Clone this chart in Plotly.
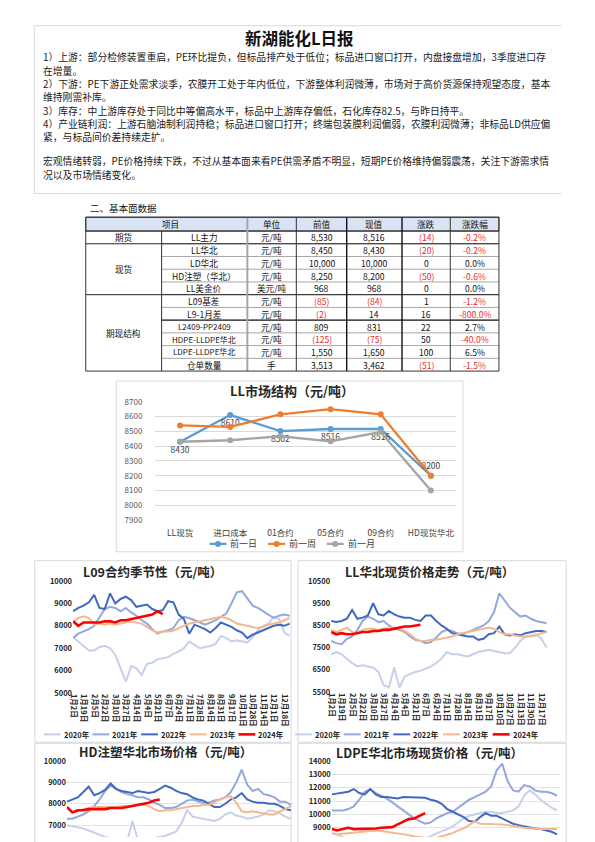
import plotly.graph_objects as go

W, H = 595, 842
FONT = "Noto Sans CJK SC"


def fx(px):
    return px / W


def fy(py):
    return 1 - py / H


# ---------------- report text ----------------
report_title = "新湖能化L日报"
body_lines = [
    "1）上游：部分检修装置重启，PE环比提负，但标品排产处于低位；标品进口窗口打开，内盘接盘增加，3季度进口存",
    "在增量。",
    "2）下游：PE下游正处需求淡季，农膜开工处于年内低位，下游整体利润微薄，市场对于高价货源保持观望态度，基本",
    "维持刚需补库。",
    "3）库存：中上游库存处于同比中等偏高水平，标品中上游库存偏低，石化库存82.5，与昨日持平。",
    "4）产业链利润：上游石脑油制利润持稳；标品进口窗口打开；终端包装膜利润偏弱，农膜利润微薄；非标品LD供应偏",
    "紧，与标品间价差持续走扩。",
    "宏观情绪转弱，PE价格持续下跌，不过从基本面来看PE供需矛盾不明显，短期PE价格维持偏弱震荡，关注下游需求情",
    "况以及市场情绪变化。",
]
section_title = "二、基本面数据"

# ---------------- table data ----------------
table_header = ["项目", "单位", "前值", "现值", "涨跌", "涨跌幅"]
table_groups = ["期货", "现货", "期现结构"]
table_group_sizes = [1, 4, 6]
table_items = ["LL主力", "LL华北", "LD华北", "HD注塑（华北）", "LL美金价", "L09基差", "L9-1月差",
               "L2409-PP2409", "HDPE-LLDPE华北", "LDPE-LLDPE华北", "仓单数量"]
table_units = ["元/吨", "元/吨", "元/吨", "元/吨", "美元/吨", "元/吨", "元/吨", "元/吨", "元/吨", "元/吨", "手"]
table_prev = ["8,530", "8,450", "10,000", "8,250", "968", "(85)", "(2)", "809", "(125)", "1,550", "3,513"]
table_curr = ["8,516", "8,430", "10,000", "8,200", "968", "(84)", "14", "831", "(75)", "1,650", "3,462"]
table_chg = ["(14)", "(20)", "0", "(50)", "0", "1", "16", "22", "50", "100", "(51)"]
table_pct = ["-0.2%", "-0.2%", "0.0%", "-0.6%", "0.0%", "-1.2%", "-800.0%", "2.7%", "-40.0%", "6.5%", "-1.5%"]

# ---------------- LL market structure ----------------
ms_title = "LL市场结构（元/吨）"
ms_categories = ["LL现货", "进口成本", "01合约", "05合约", "09合约", "HD现货华北"]
ms_prev_day = [8430, 8610, 8502, 8516, 8516, 8200]
ms_prev_week = [8540, 8530, 8615, 8650, 8615, 8200]
ms_prev_month = [8430, 8440, 8467, 8433, 8495, 8100]
ms_names = ["前一日", "前一周", "前一月"]

# ---------------- seasonal charts ----------------
season_years = ["2020年", "2021年", "2022年", "2023年", "2024年"]
season_days = list(range(0, 247, 6))  # trading-day index of each sample

ticks_a = ["1月2日", "1月19日", "2月5日", "2月22日", "3月10日", "3月27日", "4月14日", "5月4日", "5月21日",
           "6月7日", "6月24日", "7月11日", "7月28日", "8月14日", "8月31日", "9月17日", "10月11日",
           "10月28日", "11月14日", "12月1日", "12月18日"]
ticks_b = ["1月2日", "1月19日", "2月5日", "2月22日", "3月10日", "3月27日", "4月14日", "5月4日", "5月21日",
           "6月7日", "6月24日", "7月11日", "7月28日", "8月14日", "8月31日", "9月17日", "10月10日",
           "10月27日", "11月13日", "11月30日", "12月17日"]

# L09 contract seasonality
A_2020 = [7500, 7300, 7100, 6900, 6900, 7050, 7100, 7000, 6700, 6100, 5500, 6200, 6100, 5800, 6300, 6350, 6500,
          6550, 6600, 6750, 6850, 7000, 7300, 7150, 7000, 7050, 7100, 7200, 7550, 7450, 7300, 7350, 7300, 7250,
          7500, 7800, 8000, 8100, 8400, 8300, 7700, 7550]
A_2021 = [7450, 7650, 7750, 7850, 8000, 8350, 8750, 8850, 8800, 8650, 8800, 8600, 8450, 8250, 8100, 7850, 7650,
          7750, 7800, 7900, 8250, 8400, 8350, 8250, 8150, 8050, 8150, 8250, 8400, 8550, 9000, 9500, 9550, 9200,
          8900, 8800, 8650, 8500, 8350, 8450, 8500, 8450]
A_2022 = [8650, 8800, 8900, 9050, 9380, 8800, 8750, 9450, 9000, 9200, 9300, 9150, 8850, 8900, 8950, 8750, 8650,
          8700, 9100, 9050, 8500, 8300, 7650, 8050, 7950, 7850, 7700, 7900, 8150, 8050, 7950, 7800, 7700, 7450,
          7600, 7700, 7800, 7900, 8000, 8050, 8000, 8100]
A_2023 = [8150, 8350, 8430, 8350, 8050, 8100, 8050, 8100, 8050, 8100, 8150, 8200, 8150, 8100, 7950, 7800, 7700,
          7750, 7750, 7780, 7900, 8000, 8100, 8150, 8200, 8250, 8300, 8350, 8400, 8350, 8250, 8100, 8050, 8000,
          7950, 7900, 7950, 8050, 8100, 8150, 8250, 8350]
A_2024 = [8200, 8000, 8150, 8150, 8150, 8150, 8200, 8200, 8150, 8250, 8250, 8300, 8350, 8400, 8450, 8500, 8650,
          8520]

# LL North China spot
B_2020 = [7200, 7300, 7200, 7000, 6800, 6650, 6700, 6650, 6600, 6400, 5800, 5700, 6600, 5700, 6200, 6300, 6400,
          6450, 6550, 6650, 6800, 7000, 7300, 7200, 7200, 7150, 7100, 7200, 7300, 7350, 7400, 7350, 7300, 7250,
          7250, 7500, 7800, 8000, 8050, 8100, 7900, 7500]
B_2021 = [7800, 7700, 7650, 7900, 8000, 8300, 8700, 8900, 8800, 8650, 8700, 8500, 8350, 8300, 8200, 8000, 7850,
          7800, 7700, 7750, 7950, 8200, 8300, 8250, 8150, 8100, 8200, 8300, 8400, 8500, 8700, 9100, 9950, 9600,
          9300, 9100, 8900, 8950, 8800, 8700, 8650, 8600]
B_2022 = [8700, 8650, 8700, 8800, 9200, 8800, 8850, 8950, 9500, 9000, 8950, 9150, 9000, 8900, 8850, 8850, 8750,
          8700, 8950, 8950, 8700, 8500, 8350, 8150, 8100, 8050, 8000, 8000, 7850, 7900, 8100, 8150, 8450, 8100,
          8050, 8100, 8050, 8150, 8200, 8250, 8250, 8200]
B_2023 = [8300, 8200, 8300, 8400, 8200, 8150, 8300, 8350, 8350, 8300, 8350, 8400, 8400, 8350, 8250, 8100, 7900,
          7800, 7800, 7850, 7850, 7900, 7950, 8000, 8100, 8150, 8200, 8250, 8300, 8350, 8400, 8350, 8200, 8100,
          8100, 8050, 8000, 8000, 8000, 8050, 8150, 8200]
B_2024 = [8200, 8100, 8150, 8100, 8100, 8150, 8200, 8200, 8250, 8250, 8300, 8300, 8350, 8400, 8450, 8450, 8500,
          8530]

# HD injection North China
C_2020 = [7000, 6950, 6900, 6850, 6750, 6650, 6550, 6450, 6400, 6300, 6250, 6200, 7200, 6300, 6200, 6300, 6400,
          6450, 6500, 6600, 6700, 7100, 7700, 7400, 7350, 7300, 7250, 7200, 7300, 7500, 7600, 7450, 7400, 7300,
          7350, 7400, 7500, 7700, 7650, 7550, 7400, 7300]
C_2021 = [7300, 7300, 7400, 7500, 7650, 7900, 8200, 8600, 8850, 8700, 8550, 8450, 8400, 8300, 8300, 8200, 8050,
          7950, 7800, 7800, 7850, 8000, 8150, 8200, 8100, 8050, 8050, 8150, 8200, 8300, 8550, 9000, 9600, 8900,
          8600, 8700, 8450, 8400, 8300, 8100, 8100, 7950]
C_2022 = [8100, 8200, 8300, 8550, 8800, 8400, 8500, 8650, 8950, 8700, 8600, 8550, 8500, 8600, 8550, 8500, 8550,
          8700, 8850, 8750, 8600, 8500, 8450, 8300, 8200, 8150, 8000, 7850, 7850, 8000, 8200, 8300, 8500, 8200,
          8100, 8050, 8050, 8000, 8000, 7900, 7750, 7700]
C_2023 = [7800, 7600, 7650, 7750, 7800, 7850, 7850, 7850, 7850, 7850, 7900, 7900, 7900, 7950, 7950, 7900, 7750,
          7650, 7700, 7700, 7750, 7800, 7850, 7900, 7900, 7950, 7950, 8050, 8200, 8300, 8350, 8050, 7650, 7600,
          7650, 7600, 7550, 7500, 7500, 7650, 7750, 7900]
C_2024 = [7850, 7600, 7700, 7700, 7750, 7750, 7750, 7750, 7800, 7800, 7800, 7850, 7900, 7950, 8000, 8050, 8150,
          8200]

# LDPE North China spot
D_2020 = [8600, 8500, 8300, 8000, 7700, 7500, 7300, 7100, 7000, 7100, 7200, 7300, 7400, 7500, 7600, 7800, 8000,
          8200, 8400, 8600, 8750, 8900, 9100, 9400, 9700, 9900, 10000, 10100, 10200, 10200, 10100, 10100, 10200,
          10300, 10600, 11400, 11800, 11500, 11100, 10800, 10500, 10300]
D_2021 = [10300, 10300, 10300, 10400, 10600, 11100, 11700, 11900, 11600, 11400, 11200, 10900, 10600, 10300, 10000,
          9700, 9500, 9300, 9400, 9700, 9900, 10100, 10200, 10500, 10800, 11100, 11300, 11500, 11700, 12100, 13300,
          13800, 12500, 11800, 11700, 12200, 12100, 11800, 11700, 11700, 11600, 11400]
D_2022 = [11500, 11550, 11600, 11700, 11900, 11600, 11500, 11900, 11500, 11300, 11300, 11250, 11200, 11300, 11300,
          11250, 11300, 11250, 11100, 11000, 10800, 10400, 10200, 10000, 9800, 9500, 9450, 9800, 10100, 9900, 9900,
          9700, 9500, 9300, 9200, 9100, 9000, 8950, 8900, 8800, 8700, 8500]
D_2023 = [8600, 8500, 8550, 8600, 8650, 8700, 8750, 8800, 8800, 8750, 8700, 8650, 8600, 8500, 8450, 8350, 8300,
          8200, 8200, 8250, 8350, 8450, 8600, 8800, 8950, 9200, 9500, 9300, 9300, 9300, 9300, 9250, 9200, 9100,
          9050, 9000, 8950, 8900, 8900, 8900, 8900, 8900]
D_2024 = [8900, 8800, 8900, 9000, 8900, 8900, 8900, 8950, 8950, 9000, 9000, 9050, 9250, 9450, 9650, 9700, 9900,
          10100]

season_charts = [
    ("L09合约季节性（元/吨）", [A_2020, A_2021, A_2022, A_2023, A_2024]),
    ("LL华北现货价格走势（元/吨）", [B_2020, B_2021, B_2022, B_2023, B_2024]),
    ("HD注塑华北市场价格（元/吨）", [C_2020, C_2021, C_2022, C_2023, C_2024]),
    ("LDPE华北市场现货价格（元/吨）", [D_2020, D_2021, D_2022, D_2023, D_2024]),
]

# ---------------- styles ----------------
season_colors = ["#c6d0ea", "#93a8db", "#4169c1", "#f5b88e", "#ff0000"]
season_widths = [2, 2, 2, 2, 2.6]
ms_colors = ["#5b9bd5", "#ed7d31", "#a5a5a5"]
RED = "#e8302c"

fig = go.Figure()
shapes = []
annotations = []


def line(x0, y0, x1, y1, color="#d9d9d9", width=1):
    shapes.append(dict(type="line", xref="paper", yref="paper", x0=fx(x0), y0=fy(y0), x1=fx(x1), y1=fy(y1),
                       line=dict(color=color, width=width)))


def rect(x0, y0, x1, y1, color="#d9d9d9", width=1, fill=None):
    d = dict(type="rect", xref="paper", yref="paper", x0=fx(x0), y0=fy(y0), x1=fx(x1), y1=fy(y1),
             line=dict(color=color, width=width), layer="below")
    if fill:
        d["fillcolor"] = fill
    shapes.append(d)


def text(x, y, s, size=10, color="#111111", anchor="center", bold=False):
    annotations.append(dict(xref="paper", yref="paper", x=fx(x), y=fy(y), text=s, showarrow=False,
                            xanchor=anchor, yanchor="middle", borderpad=0,
                            font=dict(family=FONT, size=size, color=color, weight="bold" if bold else "normal")))


# ---------------- report header box ----------------
line(30, 20, 561, 20)
line(30, 190, 561, 190)
line(30.5, 20, 30.5, 190)
text(298, 32, report_title, size=16.5, color="#111111", bold=True)
body_y = [52, 65.5, 79, 92.5, 106, 119.5, 133, 157, 171]
for s, y in zip(body_lines, body_y):
    text(38, y, s, size=9.8, anchor="left", color="#1a1a1a")

# ---------------- table ----------------
text(86, 205, section_title, size=9.5, anchor="left")
col_edges = [82.3, 158.7, 245, 294.3, 345, 400.7, 449.3, 498.3]
t_top, t_head, row_h = 214, 228, 12.9
n_rows = len(table_items)
row_edges = [t_head + row_h * i for i in range(n_rows + 1)]
t_bot = row_edges[-1]
rect(col_edges[0], t_top, col_edges[-1], t_head, color="#404040", width=1, fill="#dae3f3")
for i in range(1, n_rows):
    line(col_edges[1], row_edges[i], col_edges[-1], row_edges[i], color="#a6a6a6", width=1)
g_start = 0
group_bounds = []
for gsz in table_group_sizes:
    group_bounds.append((g_start, g_start + gsz))
    g_start += gsz
for a, b in group_bounds[:-1]:
    line(col_edges[0], row_edges[b], col_edges[-1], row_edges[b], color="#262626", width=1)
line(col_edges[1], row_edges[7], col_edges[-1], row_edges[7], color="#262626", width=1.2)
line(col_edges[0], t_head, col_edges[-1], t_head, color="#262626", width=1)
for j, xe in enumerate(col_edges):
    ytop = t_head if j == 1 else t_top
    if j == 2:
        line(xe, ytop, xe, t_bot, color="#a6a6a6", width=2)
    elif j in (4, 5):
        line(xe, ytop, xe, t_bot, color="#111111", width=1.4)
    else:
        line(xe, ytop, xe, t_bot, color="#333333", width=1)
line(col_edges[0], t_top, col_edges[-1], t_top, color="#333333", width=1)
line(col_edges[0], t_bot, col_edges[-1], t_bot, color="#333333", width=1)

col_c = [(col_edges[k] + col_edges[k + 1]) / 2 for k in range(7)]
head_y = (t_top + t_head) / 2
TS = 8.6
text(168, head_y, table_header[0], size=TS)
for k, h in enumerate(table_header[1:]):
    text(col_c[k + 2], head_y, h, size=TS)
for (a, b), g in zip(group_bounds, table_groups):
    text(col_c[0], (row_edges[a] + row_edges[b]) / 2, g, size=TS)


def is_neg(s):
    return s.startswith("(") or s.startswith("-")


for i in range(n_rows):
    yc = (row_edges[i] + row_edges[i + 1]) / 2
    item = table_items[i]
    text(col_c[1], yc, item, size=TS if len(item) < 12 else 8)
    text(col_c[2], yc, table_units[i], size=TS)
    for k, arr in zip((3, 4, 5, 6), (table_prev, table_curr, table_chg, table_pct)):
        v = arr[i]
        text(col_c[k], yc, v, size=TS, color=RED if is_neg(v) else "#111111")

# ---------------- LL market structure chart ----------------
rect(113, 380, 462, 553)
text(290, 390, ms_title, size=13, color="#262626", bold=True)
for name, vals, col in zip(ms_names, [ms_prev_day, ms_prev_week, ms_prev_month], ms_colors):
    is_first = name == ms_names[0]
    fig.add_trace(go.Scatter(
        x=ms_categories, y=vals, name=name, xaxis="x", yaxis="y",
        mode="lines+markers+text" if is_first else "lines+markers",
        line=dict(color=col, width=2.3), marker=dict(color=col, size=6),
        text=[str(v) for v in vals] if is_first else None,
        textposition=["bottom center"] * 5 + ["top center"] if is_first else None,
        textfont=dict(family=FONT, size=8.5, color="#404040"),
        hoverinfo="skip", showlegend=False))
ms_leg_x = [207, 266, 325]
for name, col, lx in zip(ms_names, ms_colors, ms_leg_x):
    line(lx, 545, lx + 17, 545, color=col, width=2.3)
    shapes.append(dict(type="circle", xref="paper", yref="paper", x0=fx(lx + 8.5 - 3), x1=fx(lx + 8.5 + 3),
                       y0=fy(545 + 3), y1=fy(545 - 3), fillcolor=col, line=dict(color=col, width=0)))
    text(lx + 20, 545, name, size=9, color="#404040", anchor="left")

# ---------------- seasonal charts ----------------
frames = [(31, 562, 289, 746), (296, 562, 566, 746), (31, 747, 289, 860), (296, 747, 566, 860)]
for fr in frames:
    rect(*fr)
title_pos = [(150, 573), (428, 573), (163, 755), (428, 756)]
for (tx, ty), (ttl, _) in zip(title_pos, season_charts):
    text(tx, ty, ttl, size=12.5, color="#262626", bold=True)

geom = [
    (69.5, 289, 0.8862, 696, 582.7, [5000, 10000], ticks_a, False),
    (329.3, 552, 0.882, 695, 582.7, [5500, 10500], ticks_b, False),
    (63.3, 291, 0.9167, 842, 765, [6447, 10000], None, True),
    (330, 560, 0.922, 842, 765, [8309, 14000], None, True),
]
tick_font = dict(family=FONT, size=7.5, color="#262626", weight="bold")
layout_axes = {}
for ci, ((ttl, series), g) in enumerate(zip(season_charts, geom)):
    n = ci + 2
    x0, x1, ppd, yb, yt, yr, tl, grid = g
    for yname, vals, col, wd in zip(season_years, series, season_colors, season_widths):
        fig.add_trace(go.Scatter(x=season_days[:len(vals)], y=vals, name=yname, mode="lines",
                                 line=dict(color=col, width=wd), xaxis=f"x{n}", yaxis=f"y{n}",
                                 hoverinfo="skip", showlegend=False))
    xa = dict(domain=[fx(x0), fx(x1)], anchor=f"y{n}", range=[0, (x1 - x0) / ppd], showgrid=False,
              zeroline=False, showline=False)
    if tl:
        xa.update(tickmode="array", tickvals=season_days[::2], ticktext=tl, tickangle=90,
                  tickfont=tick_font, ticks="")
    else:
        xa.update(showticklabels=False, ticks="")
    ya = dict(domain=[max(0, fy(yb)), fy(yt)], anchor=f"x{n}", range=yr, dtick=1000, showgrid=grid,
              gridcolor="#e4e4e4", gridwidth=1, zeroline=False, showline=False, ticks="",
              tickformat="d", tickfont=tick_font)
    if ci == 1:
        ya.update(tick0=5500)
    layout_axes[f"xaxis{n}"] = xa
    layout_axes[f"yaxis{n}"] = ya

legend_starts = [[40, 89, 138, 187, 236], [293, 342, 392, 442, 492]]
for starts in legend_starts:
    for lx, yname, col, wd in zip(starts, season_years, season_colors, season_widths):
        line(lx, 738, lx + 17, 738, color=col, width=wd)
        text(lx + 19, 738.5, yname, size=7.5, color="#262626", anchor="left", bold=True)

fig.update_layout(
    width=W, height=H, margin=dict(l=0, r=0, t=0, b=0),
    paper_bgcolor="white", plot_bgcolor="rgba(0,0,0,0)", showlegend=False,
    font=dict(family=FONT),
    xaxis=dict(domain=[fx(152), fx(455)], anchor="y", type="category", range=[-0.5, 5.5], showgrid=False,
               zeroline=False, showline=False, ticks="outside", ticklen=5, tickcolor="rgba(0,0,0,0)",
               tickfont=dict(family=FONT, size=8.5, color="#404040")),
    yaxis=dict(domain=[fy(521), fy(401)], anchor="x", range=[7900, 8700], dtick=100, showgrid=True,
               gridcolor="#d9d9d9", gridwidth=1, zeroline=False, showline=False, ticks="outside",
               ticklen=10, tickcolor="rgba(0,0,0,0)", tickformat="d",
               tickfont=dict(family=FONT, size=8, color="#595959")),
    shapes=shapes, annotations=annotations,
    **layout_axes,
)

fig.write_html("out.html", config={"displayModeBar": False},
               post_script="document.body.style.margin='0';document.body.style.overflow='hidden';")
